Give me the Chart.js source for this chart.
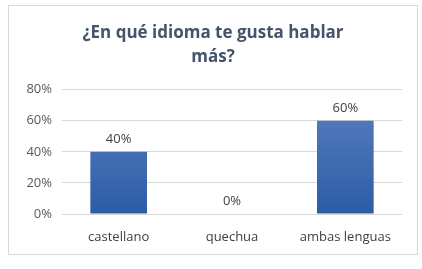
<!DOCTYPE html>
<html lang="es">
<head>
    <meta charset="UTF-8" />
    <title>¿En qué idioma te gusta hablar más?</title>
    <script src="https://cdn.jsdelivr.net/npm/chart.js"></script>
    <style>
        body {
            margin: 0;
            padding: 0;
            background: #ffffff;
        }

        .wrap {
            position: relative;
            width: 422px;
            height: 269px;
        }

        .frame {
            position: absolute;
            left: 8px;
            top: 5px;
            width: 408px;
            height: 248px;
            border: 1px solid #d9d9d9;
        }

        canvas {
            position: absolute;
            left: 0;
            top: 0;
        }
    </style>
</head>
<body>
    <div class="wrap">
        <div class="frame"></div>
        <canvas id="idiomaChart" width="422" height="269"></canvas>
    </div>

    <script>
        const categories = ['castellano', 'quechua', 'ambas lenguas'];
        const shares = [0.4, 0, 0.6];
        const yTicks = [0, 0.2, 0.4, 0.6, 0.8];

        const pct = v => Math.round(v * 100) + '%';

        // value labels above each bar
        const barLabels = {
            id: 'barLabels',
            afterDatasetsDraw(chart) {
                const c = chart.ctx;
                const meta = chart.getDatasetMeta(0);
                c.save();
                c.font = '13px "Open Sans", sans-serif';
                c.fillStyle = '#404040';
                c.textAlign = 'center';
                c.textBaseline = 'bottom';
                meta.data.forEach((bar, i) => {
                    c.fillText(pct(shares[i]), bar.x, bar.y - 6);
                });
                c.restore();
            }
        };

        const ctx = document.getElementById('idiomaChart').getContext('2d');

        const idiomaChart = new Chart(ctx, {
            type: 'bar',
            data: {
                labels: categories,
                datasets: [{
                    data: shares,
                    backgroundColor: (context) => {
                        const area = context.chart.chartArea;
                        if (!area) return '#3e6db5';
                        const g = context.chart.ctx.createLinearGradient(0, area.top, 0, area.bottom);
                        g.addColorStop(0, '#5b80c2');
                        g.addColorStop(1, '#2c5ca6');
                        return g;
                    },
                    categoryPercentage: 1,
                    barPercentage: 0.5
                }]
            },
            plugins: [barLabels],
            options: {
                responsive: false,
                animation: false,
                layout: {
                    padding: { left: 24, right: 20, top: 14, bottom: 19 }
                },
                scales: {
                    y: {
                        min: 0,
                        max: 0.8,
                        afterBuildTicks: (scale) => {
                            scale.ticks = yTicks.map(v => ({ value: v }));
                        },
                        afterFit: (scale) => { scale.width = 38; },
                        ticks: {
                            callback: (v) => pct(v),
                            color: '#595959',
                            font: { family: '"Open Sans", sans-serif', size: 13 },
                            padding: 10
                        },
                        grid: { color: '#d9d9d9', drawTicks: false },
                        border: { display: false }
                    },
                    x: {
                        afterFit: (scale) => { scale.height = 36; },
                        ticks: {
                            color: '#404040',
                            font: { family: '"Open Sans", sans-serif', size: 13 },
                            padding: 15
                        },
                        grid: { display: false, drawTicks: false },
                        border: { display: false }
                    }
                },
                plugins: {
                    legend: { display: false },
                    tooltip: { enabled: false },
                    title: {
                        display: true,
                        text: ['¿En qué idioma te gusta hablar', 'más?'],
                        color: '#44546a',
                        font: { family: '"Open Sans", sans-serif', size: 17, weight: 'bold', lineHeight: 1.4 },
                        padding: { top: 7, bottom: 21 }
                    }
                }
            }
        });
    </script>
</body>
</html>
